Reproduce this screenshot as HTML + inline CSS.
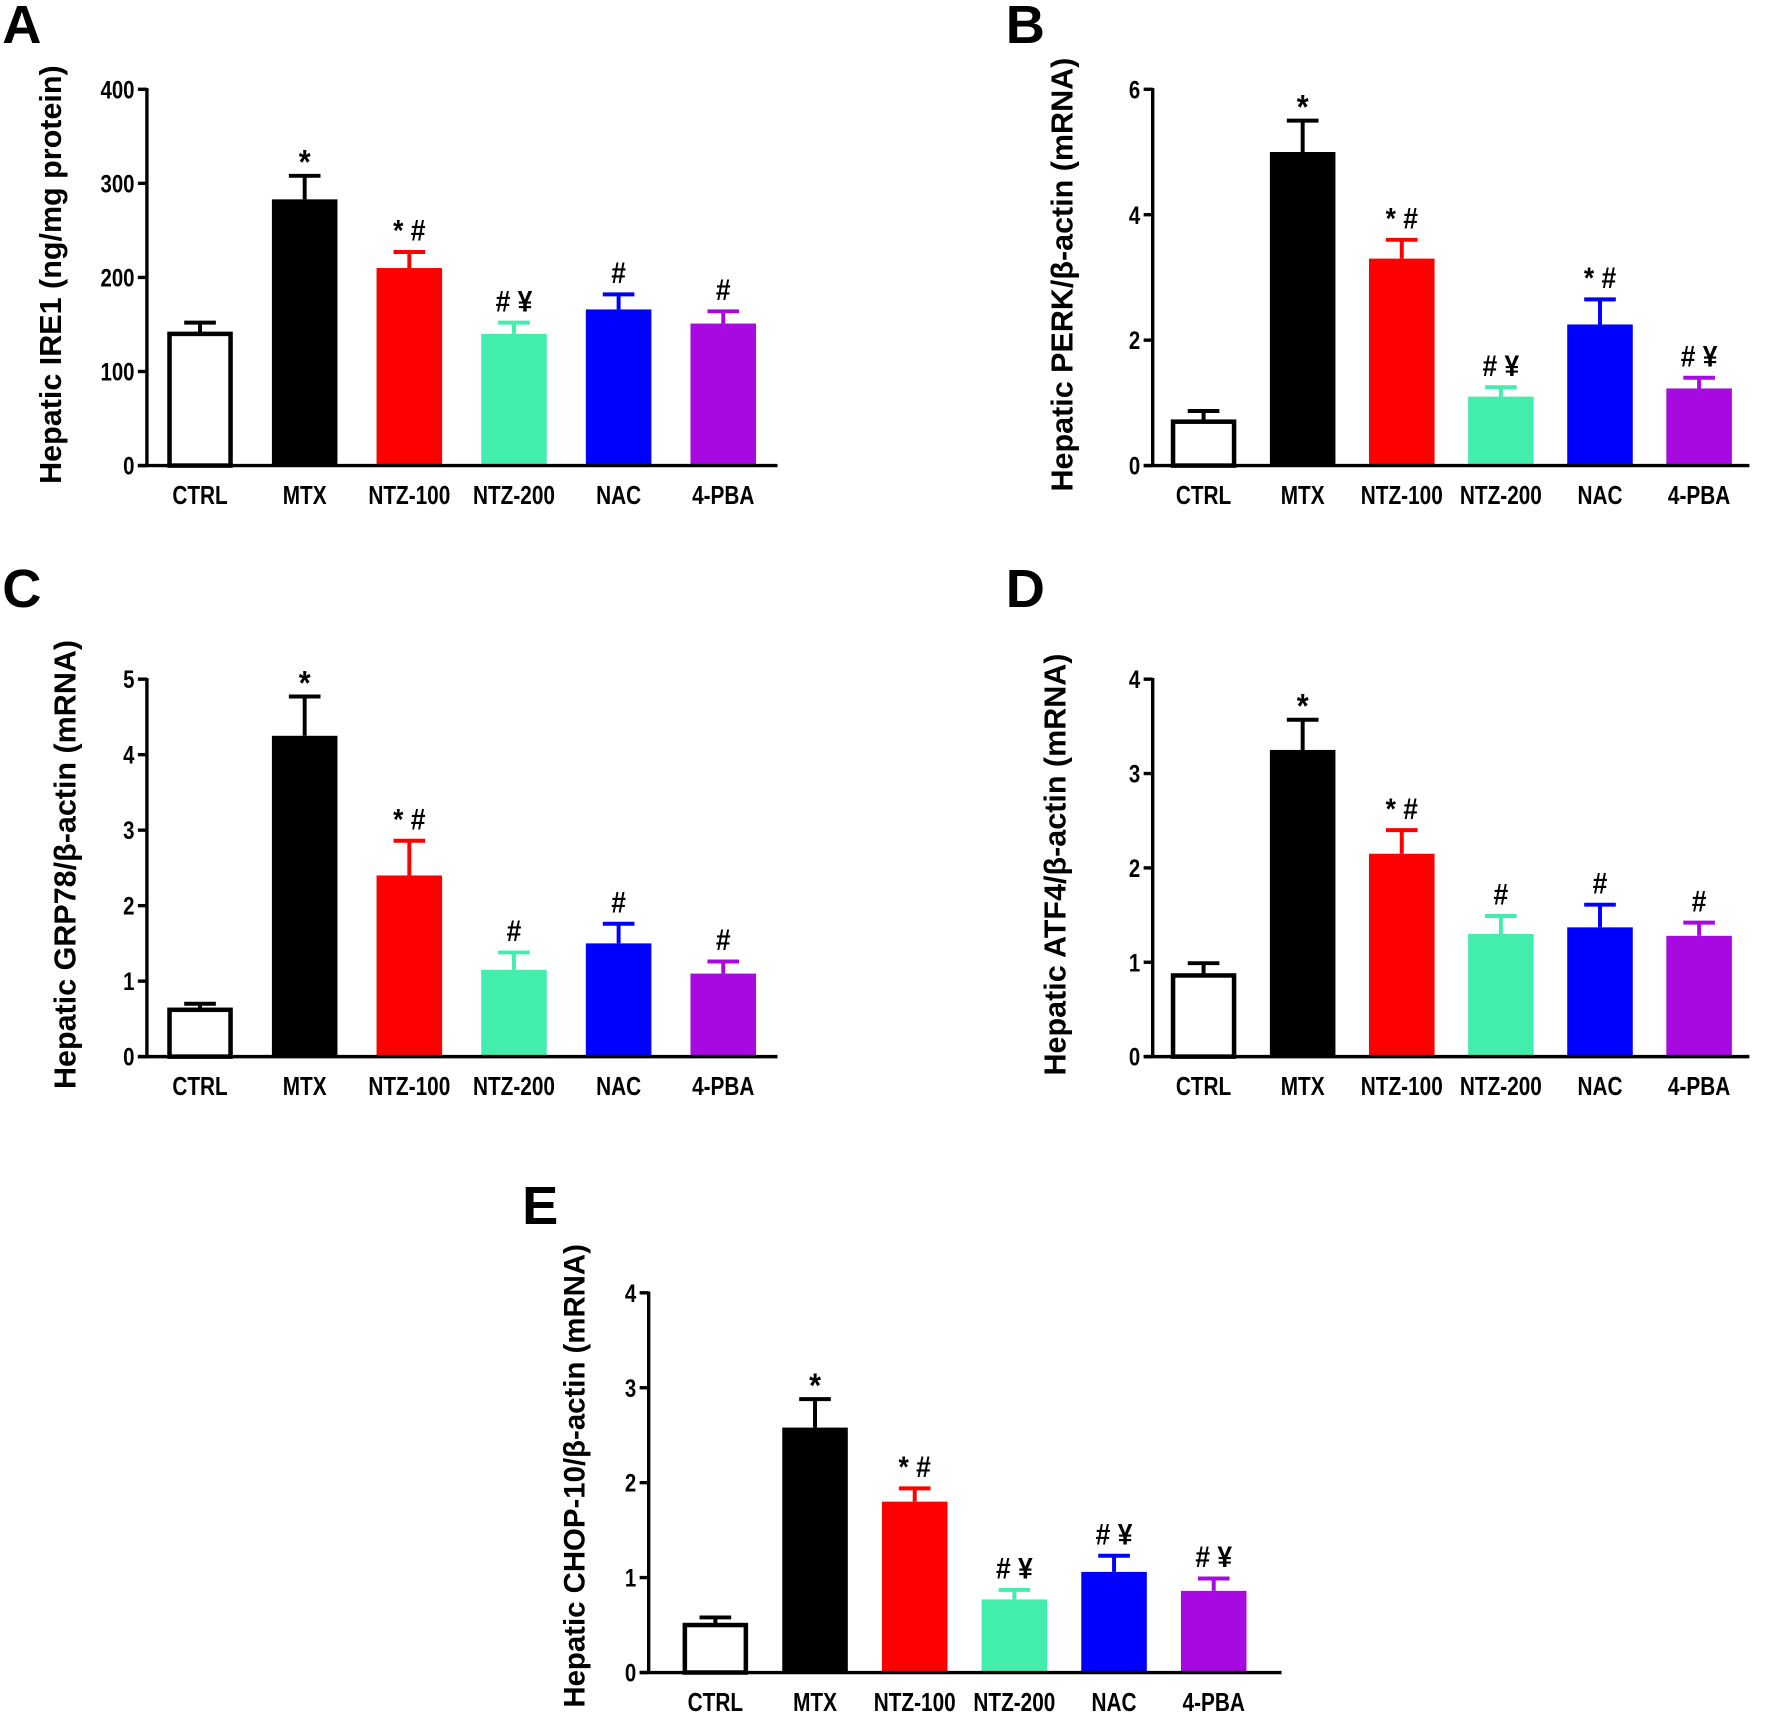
<!DOCTYPE html>
<html><head><meta charset="utf-8"><style>
html,body{margin:0;padding:0;background:#fff}
svg{display:block}
text{font-family:"Liberation Sans",Arial,sans-serif;font-weight:bold}
</style></head><body>
<svg id="fig" width="1772" height="1715" viewBox="0 0 1568 1517.6" preserveAspectRatio="none" xmlns="http://www.w3.org/2000/svg"></svg>
<script>
const categories = ["CTRL","MTX","NTZ-100","NTZ-200","NAC","4-PBA"];
const colors = ["#ffffff","#000000","#ff0000","#43eeac","#0000ff","#a70ae0"];
const valsA = [140,283,210,140,166,151];
const errA  = [152,308,227,152,182,164];
const annA  = ["","*","* #","# ¥","#","#"];
const ticksA = [0,100,200,300,400];
const valsB = [0.7,5.0,3.3,1.1,2.25,1.23];
const errB  = [0.87,5.5,3.6,1.25,2.65,1.4];
const annB  = ["","*","* #","# ¥","* #","# ¥"];
const ticksB = [0,2,4,6];
const valsC = [0.62,4.25,2.4,1.15,1.5,1.1];
const errC  = [0.7,4.77,2.86,1.38,1.76,1.26];
const annC  = ["","*","* #","#","#","#"];
const ticksC = [0,1,2,3,4,5];
const valsD = [0.86,3.25,2.15,1.3,1.37,1.28];
const errD  = [0.99,3.57,2.4,1.49,1.61,1.42];
const annD  = ["","*","* #","#","#","#"];
const ticksD = [0,1,2,3,4];
const valsE = [0.5,2.58,1.8,0.77,1.06,0.86];
const errE  = [0.58,2.88,1.94,0.87,1.23,0.99];
const annE  = ["","*","* #","# ¥","# ¥","# ¥"];
const ticksE = [0,1,2,3,4];

const NS="http://www.w3.org/2000/svg";
const svg=document.getElementById('fig');
function mk(tag,attrs,parent,txt){const e=document.createElementNS(NS,tag);for(const k in attrs)e.setAttribute(k,attrs[k]);if(txt!==undefined)e.textContent=txt;(parent||svg).appendChild(e);return e;}

function panel(id,letter,lx,ly,ax,top,bottom,xend,x0,step,vals,errs,anns,ticks,title,tx,ty,tfs){
  const g=mk('g',{});
  
  
  const L=mk('text',{x:lx,y:ly,'font-size':48},g,letter);
  
  
  const ymax=ticks[ticks.length-1];
  const yS=v=>bottom-(v/ymax)*(bottom-top);
  const xS=i=>x0+i*step;
  const bw=58;
  vals.forEach((v,i)=>{
    const cx=xS(i), y=yS(v), ye=yS(errs[i]);
    const col=colors[i];
    const eb=mk('g',{},g);
    
    
    const ec=i===0?'#000':col;
    mk('line',{x1:cx,x2:cx,y1:y,y2:ye,stroke:ec,'stroke-width':3.5},eb);
    mk('line',{x1:cx-14,x2:cx+14,y1:ye,y2:ye,stroke:ec,'stroke-width':3.5},eb);
    let r;
    if(i===0) r=mk('rect',{x:cx-bw/2+2,y:y,width:bw-4,height:bottom-y,fill:'#fff',stroke:'#000','stroke-width':4},g);
    else r=mk('rect',{x:cx-bw/2,y:y,width:bw,height:bottom-y,fill:col},g);
    
    
    if(anns[i]){
      const fs = anns[i]==='*'?30:26;
      const a=mk('text',{x:cx,y:ye-(anns[i]==='*'?2:10),'font-size':fs,'text-anchor':'middle',transform:`translate(${cx},0) scale(0.9,1) translate(${-cx},0)`},g,anns[i]);
      
      
    }
    const t=mk('text',{x:cx,y:bottom+34,'font-size':23,'text-anchor':'middle',transform:`translate(${cx},0) scale(0.8,1) translate(${-cx},0)`},g,categories[i]);
    
    
  });
  const ya=mk('line',{x1:ax,x2:ax,y1:top-1,y2:bottom,stroke:'#000','stroke-width':3},g);
  
  
  const xa=mk('line',{x1:ax-8,x2:xend,y1:bottom,y2:bottom,stroke:'#000','stroke-width':3},g);
  
  
  ticks.forEach(t=>{
    const y=yS(t);
    mk('line',{x1:ax-8,x2:ax,y1:y,y2:y,stroke:'#000','stroke-width':3},g);
    const xr=ax-11;
    const tl=mk('text',{x:xr,y:y+8,'font-size':22,'text-anchor':'end',transform:`translate(${xr},0) scale(0.82,1) translate(${-xr},0)`},g,String(t));
    
    
  });
  const yt=mk('text',{x:tx,y:ty,'font-size':tfs,'text-anchor':'middle',transform:`rotate(-90 ${tx} ${ty})`},g,title);
  
  
}
panel('a','A',2,38,130,79,412,688,177,92.6,valsA,errA,annA,ticksA,'Hepatic IRE1 (ng/mg protein)',54,243,27);
panel('b','B',890,38,1020,79,412,1548,1065,87.7,valsB,errB,annB,ticksB,'Hepatic PERK/β-actin (mRNA)',949,243,27);
panel('c','C',2,537,130,601,935,688,177,92.6,valsC,errC,annC,ticksC,'Hepatic GRP78/β-actin (mRNA)',67,765,27);
panel('d','D',890,537,1020,601,935,1548,1065,87.7,valsD,errD,annD,ticksD,'Hepatic ATF4/β-actin (mRNA)',943,765,27);
panel('e','E',462,1083,574,1144,1480,1134,633,88.2,valsE,errE,annE,ticksE,'Hepatic CHOP-10/β-actin (mRNA)',517,1306,26);
</script>
</body></html>
